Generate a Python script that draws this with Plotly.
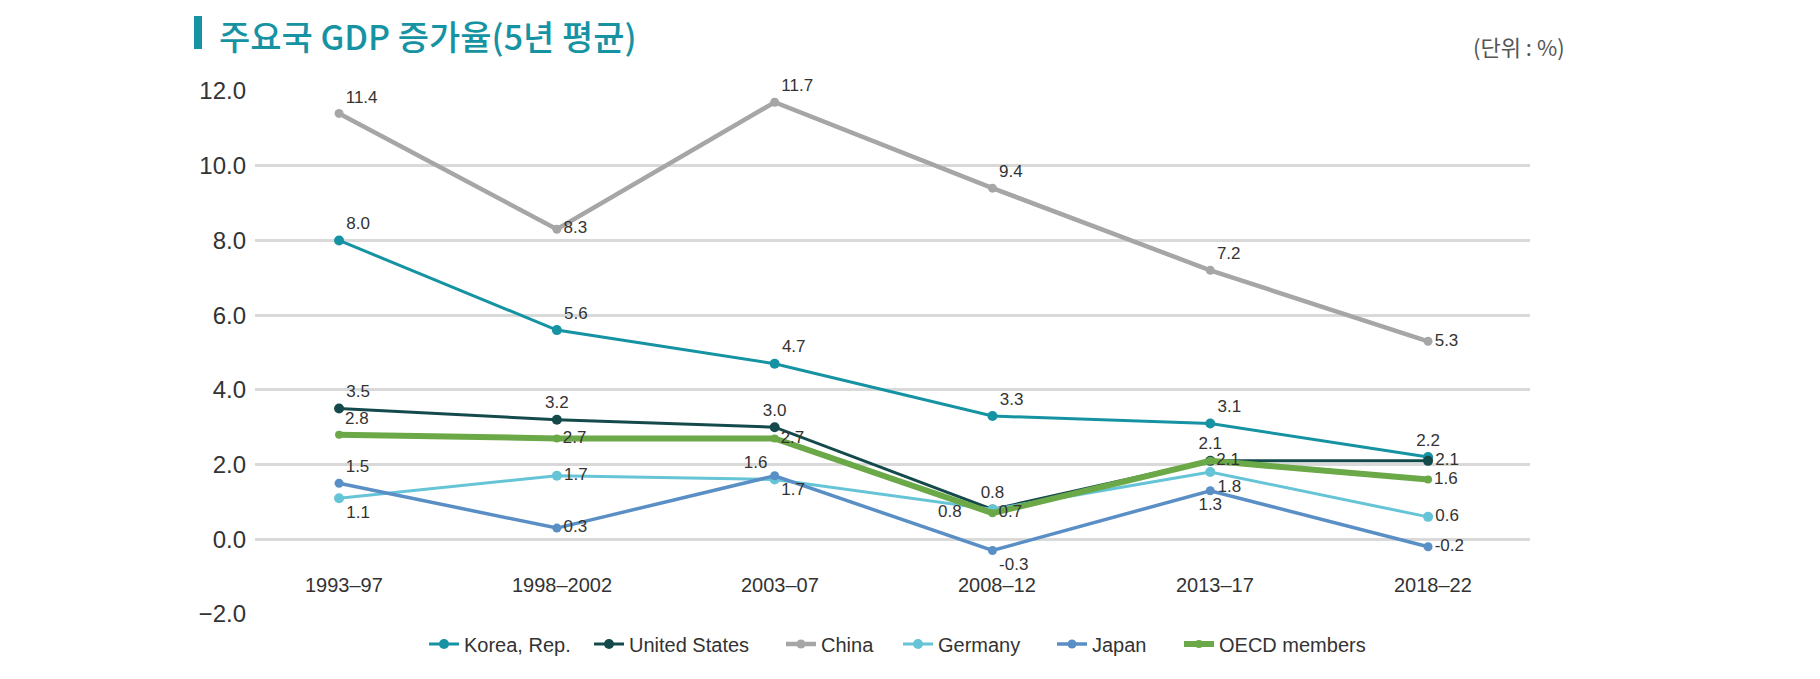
import plotly.graph_objects as go

categories = ["1993–97", "1998–2002", "2003–07", "2008–12", "2013–17", "2018–22"]

korea = [8.0, 5.6, 4.7, 3.3, 3.1, 2.2]
usa = [3.5, 3.2, 3.0, 0.8, 2.1, 2.1]
china = [11.4, 8.3, 11.7, 9.4, 7.2, 5.3]
germany = [1.1, 1.7, 1.6, 0.8, 1.8, 0.6]
japan = [1.5, 0.3, 1.7, -0.3, 1.3, -0.2]
oecd = [2.8, 2.7, 2.7, 0.7, 2.1, 1.6]

y_ticks = [-2, 0, 2, 4, 6, 8, 10, 12]

FONT = "Liberation Sans, Arial, sans-serif"
KFONT = "Noto Sans CJK KR, sans-serif"

# page offset (browser body margin)
OFF = 8
W, H = 1820, 679
L, T = 255 - OFF, 91 - OFF
pw, ph = 1275, 523
R = W - L - pw
B = H - T - ph


def px_x(px):
    return (px - OFF - L) / pw


def px_y(py):
    return (T + ph - (py - OFF)) / ph


series = [
    dict(name="Korea, Rep.", y=korea, color="#1593A3", width=3, size=10, leg=429,
         pos=["top right", "top right", "top right", "top right", "top right", "top center"]),
    dict(name="United States", y=usa, color="#154A4C", width=3, size=10, leg=594,
         pos=["top right", "top center", "top center", "top center", "top center", "middle right"]),
    dict(name="China", y=china, color="#A6A6A6", width=4.5, size=9, leg=786,
         pos=["top right", "middle right", "top right", "top right", "top right", "middle right"]),
    dict(name="Germany", y=germany, color="#66C4D7", width=3, size=10, leg=903,
         pos=["bottom right", "middle right", "top left", "middle left", "bottom right", "middle right"]),
    dict(name="Japan", y=japan, color="#5A8FC6", width=3.5, size=9, leg=1057,
         pos=["top right", "middle right", "bottom right", "bottom right", "bottom center", "middle right"]),
    dict(name="OECD members", y=oecd, color="#6BA847", width=6, size=8, leg=1184,
         pos=["top right", "middle right", "middle right", "middle right", "middle right", "middle right"]),
]

fig = go.Figure()
legend_layouts = {}
for i, s in enumerate(series):
    key = "legend" if i == 0 else f"legend{i + 1}"
    texts = [f"{v:.1f}" for v in s["y"]]
    if s["name"] == "Germany":
        texts[3] = ""  # drawn as annotation further left
    fig.add_trace(go.Scatter(
        x=categories, y=s["y"], name=s["name"], mode="lines+markers+text",
        line=dict(color=s["color"], width=s["width"]),
        marker=dict(color=s["color"], size=s["size"]),
        text=texts,
        textposition=s["pos"],
        textfont=dict(family=FONT, size=17, color="#333333"),
        cliponaxis=False,
        legend=key,
    ))
    legend_layouts[key] = dict(
        orientation="h", x=px_x(s["leg"] - 5), y=px_y(644), xanchor="left", yanchor="middle",
        font=dict(family=FONT, size=20, color="#333333"), itemwidth=30,
        bgcolor="rgba(0,0,0,0)",
    )

# Germany 2008-12 label, placed further left of the cluster
fig.add_annotation(x=categories[3], y=germany[3], xref="x", yref="y", text=f"{germany[3]:.1f}",
                   showarrow=False, xanchor="right", yanchor="middle", xshift=-28, yshift=-2,
                   font=dict(family=FONT, size=17, color="#333333"))

# category labels placed inside the plot (as in reference)
for c in categories:
    fig.add_annotation(x=c, y=-1.22, xref="x", yref="y", text=c, showarrow=False, xshift=5,
                       font=dict(family=FONT, size=20, color="#333333"))

# title
fig.add_annotation(x=px_x(217), y=px_y(35), xref="paper", yref="paper",
                   text="주요국 GDP 증가율(5년 평균)", showarrow=False,
                   xanchor="left", yanchor="middle",
                   font=dict(family=KFONT, size=34, color="#1593A3", weight=500))

# unit label
fig.add_annotation(x=px_x(1567), y=px_y(46), xref="paper", yref="paper", text="(단위 : %)",
                   showarrow=False, xanchor="right", yanchor="middle",
                   font=dict(family=KFONT, size=22, color="#555555"))

# title bar
fig.add_shape(type="rect", xref="paper", yref="paper",
              x0=px_x(194), x1=px_x(202), y0=px_y(49), y1=px_y(16),
              fillcolor="#1593A3", line=dict(width=0))

fig.update_layout(
    width=W, height=H,
    margin=dict(l=L, r=R, t=T, b=B),
    paper_bgcolor="white", plot_bgcolor="white",
    xaxis=dict(type="category", range=[-0.386, 5.468], showgrid=False, showticklabels=False,
               zeroline=False, showline=False, fixedrange=True),
    yaxis=dict(range=[-2.0, 12.0], tickvals=y_ticks, tickformat=".1f",
               showgrid=True, gridcolor="#D9D9D9", gridwidth=3, zeroline=False, showline=False,
               ticklabelstandoff=8,
               tickfont=dict(family=FONT, size=24, color="#333333")),
    showlegend=True,
    **legend_layouts,
)

fig.write_html("out.html")
